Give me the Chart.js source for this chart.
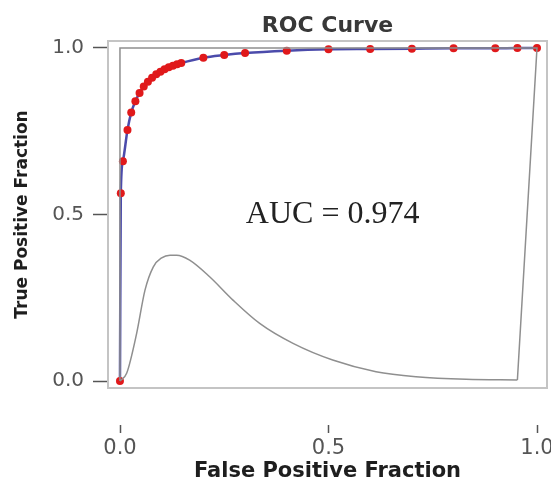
<!DOCTYPE html>
<html>
<head>
<meta charset="utf-8">
<script src="https://cdn.jsdelivr.net/npm/chart.js@4/dist/chart.umd.min.js"></script>
<style>
  html, body { margin: 0; padding: 0; background: #ffffff; }
  #wrap { width: 551px; height: 482px; }
</style>
</head>
<body>
<div id="wrap"><canvas id="c" width="551" height="482"></canvas></div>
<script>
// ROC curve points (false positive fraction, true positive fraction)
const rocFPF = [0, 0.002, 0.007, 0.018, 0.027, 0.037, 0.047, 0.057, 0.067, 0.077, 0.087, 0.097, 0.107, 0.117, 0.127, 0.137, 0.147, 0.2, 0.25, 0.3, 0.4, 0.5, 0.6, 0.7, 0.8, 0.9, 0.953, 1.0];
const rocTPF = [0, 0.564, 0.66, 0.754, 0.806, 0.84, 0.865, 0.884, 0.899, 0.911, 0.921, 0.929, 0.936, 0.942, 0.947, 0.951, 0.955, 0.971, 0.979, 0.985, 0.992, 0.996, 0.997, 0.998, 0.999, 0.999, 1.0, 1.0];

// Grey density-like curve
const greyX = [0, 0.016, 0.04, 0.06, 0.08, 0.1, 0.12, 0.136, 0.167, 0.215, 0.271, 0.335, 0.415, 0.51, 0.614, 0.71, 0.83, 0.953];
const greyY = [0, 0.023, 0.143, 0.273, 0.343, 0.37, 0.378, 0.378, 0.363, 0.313, 0.243, 0.173, 0.113, 0.063, 0.028, 0.013, 0.005, 0.003];

// Grey outline closing the shape
const outlineX = [0.953, 1.0, 0, 0];
const outlineY = [0.003, 1.0, 1.0, 0];

const xTickValues = [0, 0.5, 1.0];
const yTickValues = [0, 0.5, 1.0];
const aucText = 'AUC = 0.974';
const aucPos = { x: 0.51, y: 0.5 };

const toPts = (xs, ys) => xs.map((x, i) => ({ x: x, y: ys[i] }));

const framePlugin = {
  id: 'frame',
  beforeDatasetsDraw(chart) {
    const a = chart.chartArea, ctx = chart.ctx;
    ctx.save();
    ctx.strokeStyle = '#c4c4c4';
    ctx.lineWidth = 2;
    ctx.strokeRect(a.left, a.top, a.right - a.left, a.bottom - a.top);
    ctx.restore();
  },
  afterDatasetsDraw(chart) {
    const ctx = chart.ctx;
    const xs = chart.scales.x, ys = chart.scales.y;
    ctx.save();
    // detached x tick marks above the tick labels
    ctx.strokeStyle = '#555555';
    ctx.lineWidth = 1.5;
    xs.ticks.forEach(t => {
      const px = Math.round(xs.getPixelForValue(t.value)) + 0.5;
      ctx.beginPath();
      ctx.moveTo(px, xs.top + 37);
      ctx.lineTo(px, xs.top + 45);
      ctx.stroke();
    });
    ctx.font = '32px "Liberation Serif", "DejaVu Serif", serif';
    ctx.fillStyle = '#222222';
    ctx.textAlign = 'center';
    ctx.textBaseline = 'middle';
    ctx.fillText(aucText, xs.getPixelForValue(aucPos.x), ys.getPixelForValue(aucPos.y));
    ctx.restore();
  }
};

new Chart(document.getElementById('c'), {
  type: 'scatter',
  data: {
    datasets: [
      {
        data: toPts(outlineX, outlineY),
        showLine: true,
        borderColor: '#8f8f8f',
        borderWidth: 1.5,
        pointRadius: 0,
        tension: 0
      },
      {
        data: toPts(greyX, greyY),
        showLine: true,
        borderColor: '#8f8f8f',
        borderWidth: 1.5,
        pointRadius: 0,
        cubicInterpolationMode: 'monotone'
      },
      {
        data: toPts(rocFPF, rocTPF),
        showLine: true,
        borderColor: '#4b4bab',
        borderWidth: 2.5,
        cubicInterpolationMode: 'monotone',
        pointRadius: 4,
        pointBackgroundColor: '#e0191b',
        pointBorderColor: '#e0191b',
        pointBorderWidth: 0
      }
    ]
  },
  options: {
    responsive: false,
    animation: false,
    devicePixelRatio: 1,
    layout: { padding: { left: 0, right: 3, top: 0, bottom: 0 } },
    plugins: {
      legend: { display: false },
      tooltip: { enabled: false },
      title: {
        display: true,
        text: 'ROC Curve',
        fullSize: false,
        color: '#383838',
        font: { family: 'DejaVu Sans', size: 22, weight: 'bold', lineHeight: 1 },
        padding: { top: 15, bottom: 4 }
      }
    },
    scales: {
      x: {
        type: 'linear',
        min: -0.0287,
        max: 1.024,
        afterBuildTicks(s) { s.ticks = xTickValues.map(v => ({ value: v })); },
        afterFit(s) { s.height = 94; s.paddingLeft = 0; s.paddingRight = 0; },
        border: { display: false },
        grid: {
          drawOnChartArea: false,
          drawTicks: true,
          tickLength: 45,
          tickColor: 'rgba(0,0,0,0)'
        },
        ticks: {
          padding: 3,
          color: '#555555',
          font: { family: 'DejaVu Sans', size: 21 },
          maxRotation: 0,
          callback: v => v.toFixed(1)
        },
        title: {
          display: true,
          text: 'False Positive Fraction',
          color: '#1e1e1e',
          font: { family: 'DejaVu Sans', size: 21, weight: 'bold', lineHeight: 1 },
          padding: { top: 0, bottom: 0 }
        }
      },
      y: {
        type: 'linear',
        min: -0.021,
        max: 1.021,
        afterBuildTicks(s) { s.ticks = yTickValues.map(v => ({ value: v })); },
        afterFit(s) { s.width = 108; s.paddingTop = 0; s.paddingBottom = 0; },
        border: { display: false },
        grid: {
          drawOnChartArea: false,
          drawTicks: true,
          tickLength: 15,
          tickColor: '#555555',
          tickWidth: 1.5
        },
        ticks: {
          padding: 9,
          color: '#555555',
          font: { family: 'DejaVu Sans', size: 20 },
          callback: v => v.toFixed(1)
        },
        title: {
          display: true,
          text: 'True Positive Fraction',
          color: '#1e1e1e',
          font: { family: 'DejaVu Sans', size: 17, weight: 'bold', lineHeight: 1 },
          padding: { top: 14, bottom: 0 }
        }
      }
    }
  },
  plugins: [framePlugin]
});
</script>
</body>
</html>
